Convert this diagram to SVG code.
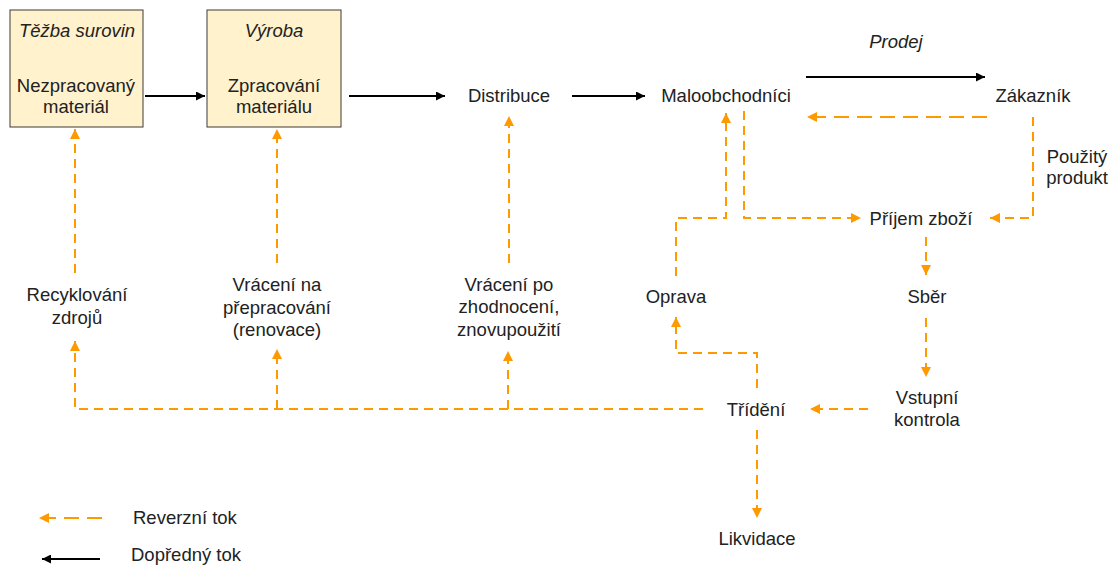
<svg xmlns="http://www.w3.org/2000/svg" width="1114" height="566" viewBox="0 0 1114 566">
<style>
text{font-family:"Liberation Sans",Arial,sans-serif;font-size:18.5px;fill:#222;text-anchor:middle}
.it{font-style:italic}
.lft{text-anchor:start}
.box{fill:#fff2cc;stroke:#3a3a3a;stroke-width:1}
.fw{fill:none;stroke:#000;stroke-width:2;marker-end:url(#ab)}
.rv{fill:none;stroke:#ff9900;stroke-width:2;stroke-dasharray:9,6}
.rva{marker-end:url(#ao)}
.lg{stroke-dasharray:15,8}
</style>
<defs>
<marker id="ao" markerUnits="userSpaceOnUse" viewBox="0 0 10 10" refX="10" refY="5" markerWidth="11" markerHeight="10" orient="auto"><path d="M0,0L10,5L0,10z" fill="#ff9900"/></marker>
<marker id="ab" markerUnits="userSpaceOnUse" viewBox="0 0 10 10" refX="10" refY="5" markerWidth="13" markerHeight="9" orient="auto"><path d="M0,0L10,5L0,10z" fill="#000"/></marker>
</defs>
<rect width="1114" height="566" fill="#fff"/>
<g id="connectors">
<path class="fw" d="M145,96H205"/>
<path class="fw" d="M349,96H445"/>
<path class="fw" d="M572,96H645"/>
<path class="fw" d="M806,77H985"/>
<path class="rv rva lg" d="M987,117H807"/>
<path class="rv rva" d="M1033,117V218H990"/>
<path class="rv rva" d="M744,111V218H861"/>
<path class="rv rva" d="M676,276V218H726V113"/>
<path class="rv rva" d="M926,237V275"/>
<path class="rv rva" d="M926,318V377"/>
<path class="rv rva" d="M868,409H810"/>
<path class="rv rva" d="M757,430V518"/>
<path class="rv rva" d="M757,388V353H676V317"/>
<path class="rv rva" d="M703,409H75V341"/>
<path class="rv rva" d="M277,409V349"/>
<path class="rv rva" d="M508,409V351"/>
<path class="rv rva" d="M75,273V129"/>
<path class="rv rva" d="M277,263V129"/>
<path class="rv rva" d="M509,263V116"/>
</g>
<g id="tezba"><rect class="box" x="10" y="10" width="133" height="117"/><text class="it" x="77" y="37">Těžba surovin</text><text x="76" y="92">Nezpracovaný</text><text x="76" y="113">materiál</text></g>
<g id="vyroba"><rect class="box" x="207" y="10" width="134" height="117"/><text class="it" x="274" y="37">Výroba</text><text x="274" y="92">Zpracování</text><text x="274" y="113">materiálu</text></g>
<g id="distribuce"><text x="509" y="102">Distribuce</text></g>
<g id="maloobchodnici"><text x="726" y="102">Maloobchodníci</text></g>
<g id="prodej"><text class="it" x="896" y="48">Prodej</text></g>
<g id="zakaznik"><text x="1033" y="102">Zákazník</text></g>
<g id="pouzity"><text x="1077" y="163">Použitý</text><text x="1077" y="184">produkt</text></g>
<g id="prijem"><text x="921" y="225">Příjem zboží</text></g>
<g id="sber"><text x="927" y="303">Sběr</text></g>
<g id="vstupni"><text x="927" y="404">Vstupní</text><text x="927" y="426">kontrola</text></g>
<g id="trideni"><text x="756" y="416">Třídění</text></g>
<g id="likvidace"><text x="757" y="545">Likvidace</text></g>
<g id="oprava"><text x="676" y="303">Oprava</text></g>
<g id="recyklovani"><text x="77" y="301">Recyklování</text><text x="77" y="324">zdrojů</text></g>
<g id="vraceni-na"><text x="277" y="291">Vrácení na</text><text x="277" y="314">přepracování</text><text x="277" y="336">(renovace)</text></g>
<g id="vraceni-po"><text x="509" y="291">Vrácení po</text><text x="509" y="313">zhodnocení,</text><text x="509" y="336">znovupoužití</text></g>
<g id="legend">
<path class="rv rva lg" d="M102,518H39"/>
<text class="lft" x="133" y="524">Reverzní tok</text>
<path class="fw" d="M100,559H42"/>
<text class="lft" x="131" y="561">Dopředný tok</text>
</g>
</svg>
